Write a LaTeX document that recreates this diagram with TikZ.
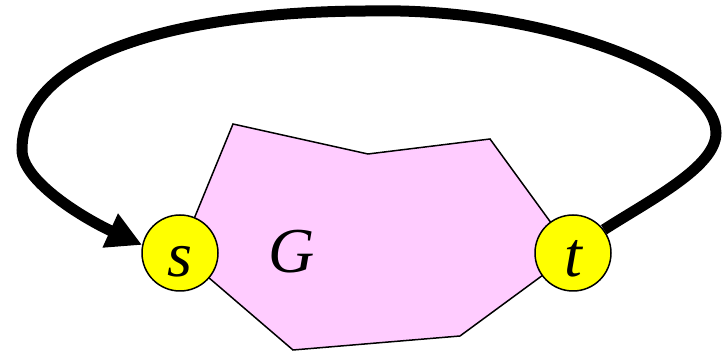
\documentclass[tikz,border=0pt]{standalone}
\usepackage{fontspec}
\setmainfont{Liberation Serif}
\usetikzlibrary{arrows.meta,backgrounds}
\definecolor{gpink}{HTML}{FFCCFF}
\definecolor{vyellow}{HTML}{FFFF00}
\tikzset{
  vertex/.style={circle,draw=black,line width=1.5pt,fill=vyellow,minimum size=76pt,inner sep=0pt},
  vlabel/.style={anchor=base,inner sep=0pt,font=\fontsize{64}{64}\selectfont\itshape},
  graphbody/.style={draw=black,line width=1.5pt,fill=gpink,line join=miter},
  conn/.style={line width=11pt,-{Triangle[length=35pt,width=35pt]}}
}
\begin{document}
\begin{tikzpicture}[x=1pt,y=1pt]
\useasboundingbox (0,0) rectangle (723,352);
\node[vertex] (s) at (180,99) {};
\node[vertex] (t) at (573,99) {};
\node[vlabel] (slab) at (180,75) {s};
\node[vlabel] (tlab) at (573,75) {t};
\begin{pgfonlayer}{background}
\draw[graphbody] (s.center) -- (233,228) -- (368,198) -- (490,213) -- (t.center) -- (460,16) -- (293,2) -- cycle;
\draw[conn] (t.37) .. controls (650,152) and (716,185) .. (716,219)
  .. controls (716,280) and (540,345) .. (370,341)
  .. controls (200,341) and (22,305) .. (22,202)
  .. controls (22,170) and (87,132) .. (s.168);
\end{pgfonlayer}
\node[vlabel] (glab) at (292,79) {G};
\end{tikzpicture}
\end{document}
